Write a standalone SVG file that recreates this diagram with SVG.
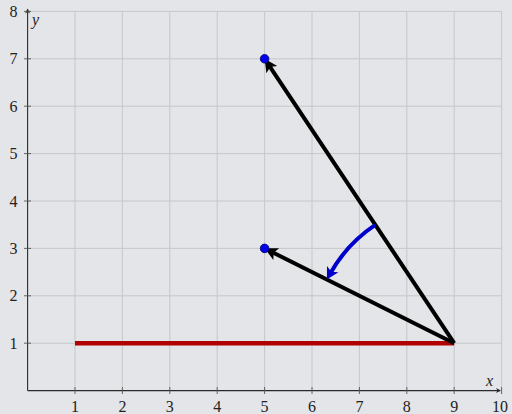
<svg xmlns="http://www.w3.org/2000/svg" width="512" height="414" viewBox="0 0 512 414">
<defs>
<style>
.grid{stroke:#c6c7ca;stroke-width:1;fill:none}
.axis{stroke:#2a2a2a;stroke-width:1.1;fill:none}
.tick{stroke:#555;stroke-width:0.9}
.lbl{font-family:"Liberation Serif","DejaVu Serif",serif;font-size:16px;fill:#222}
.it{font-style:italic}
.vec{stroke:#000;stroke-width:4;fill:none}
.dot{fill:#0000ee;stroke:#000060;stroke-width:0.8}
</style>
<marker id="ah" markerUnits="userSpaceOnUse" markerWidth="20" markerHeight="20" refX="0" refY="0" viewBox="-10 -10 20 20" orient="auto" overflow="visible">
<path d="M7,0 L-6,-6.5 L-3,0 L-6,6.5 Z" fill="#000"/>
</marker>
<marker id="ahb" markerUnits="userSpaceOnUse" markerWidth="20" markerHeight="20" refX="0" refY="0" viewBox="-10 -10 20 20" orient="auto" overflow="visible">
<path d="M6,0 L-6,-6.5 L-3,0 L-6,6.5 Z" fill="#0000cc"/>
</marker>
<marker id="axa" markerUnits="userSpaceOnUse" markerWidth="10" markerHeight="10" refX="0" refY="0" viewBox="-5 -5 10 10" orient="auto" overflow="visible">
<path d="M1,0 L-4,-2.5 L-2.5,0 L-4,2.5 Z" fill="#2a2a2a"/>
</marker>
</defs>
<rect x="0" y="0" width="512" height="414" fill="#e4e5e8"/>
<g id="grid" class="grid">
<path d="M75,11.4V390.6M122.4,11.4V390.6M169.8,11.4V390.6M217.2,11.4V390.6M264.6,11.4V390.6M312,11.4V390.6M359.4,11.4V390.6M406.8,11.4V390.6M454.2,11.4V390.6M501.6,11.4V390.6"/>
<path d="M27.6,343.2H501.6M27.6,295.8H501.6M27.6,248.4H501.6M27.6,201H501.6M27.6,153.6H501.6M27.6,106.2H501.6M27.6,58.8H501.6M27.6,11.4H501.6"/>
</g>
<g id="axes">
<line class="axis" x1="27.6" y1="390.6" x2="500" y2="390.6" marker-end="url(#axa)"/>
<line class="axis" x1="27.6" y1="390.6" x2="27.6" y2="9.5" marker-end="url(#axa)"/>
<path class="tick" d="M75,387V394M122.4,387V394M169.8,387V394M217.2,387V394M264.6,387V394M312,387V394M359.4,387V394M406.8,387V394M454.2,387V394M501.6,387V394"/>
<path class="tick" d="M24,343.2H31M24,295.8H31M24,248.4H31M24,201H31M24,153.6H31M24,106.2H31M24,58.8H31M24,11.4H31"/>
</g>
<g id="xlabels" class="lbl" text-anchor="middle">
<text x="75" y="412">1</text>
<text x="122.4" y="412">2</text>
<text x="169.8" y="412">3</text>
<text x="217.2" y="412">4</text>
<text x="264.6" y="412">5</text>
<text x="312" y="412">6</text>
<text x="359.4" y="412">7</text>
<text x="406.8" y="412">8</text>
<text x="454.2" y="412">9</text>
<text x="500" y="412">10</text>
</g>
<g id="ylabels" class="lbl" text-anchor="end">
<text x="17.5" y="348.8">1</text>
<text x="17.5" y="301.4">2</text>
<text x="17.5" y="254">3</text>
<text x="17.5" y="206.6">4</text>
<text x="17.5" y="159.2">5</text>
<text x="17.5" y="111.8">6</text>
<text x="17.5" y="64.4">7</text>
<text x="17.5" y="17">8</text>
</g>
<text id="xname" class="lbl it" x="486" y="386">x</text>
<text id="yname" class="lbl it" x="32" y="25">y</text>
<g id="segment">
<line x1="75" y1="343.2" x2="454.2" y2="343.2" stroke="#b00000" stroke-width="4.5"/>
</g>
<g id="connectors">
<line class="vec" x1="454.2" y1="343.2" x2="268.5" y2="64.6" marker-end="url(#ah)"/>
<line class="vec" x1="454.2" y1="343.2" x2="270.9" y2="251.5" marker-end="url(#ah)"/>
<path d="M375.3,224.9 A142.2,142.2 0 0 0 329.8,274.3" stroke="#0000cc" stroke-width="4" fill="none" marker-end="url(#ahb)"/>
</g>
<g id="p1"><circle class="dot" cx="264.6" cy="58.8" r="4.3"/></g>
<g id="p2"><circle class="dot" cx="264.6" cy="248.4" r="4.3"/></g>
</svg>
